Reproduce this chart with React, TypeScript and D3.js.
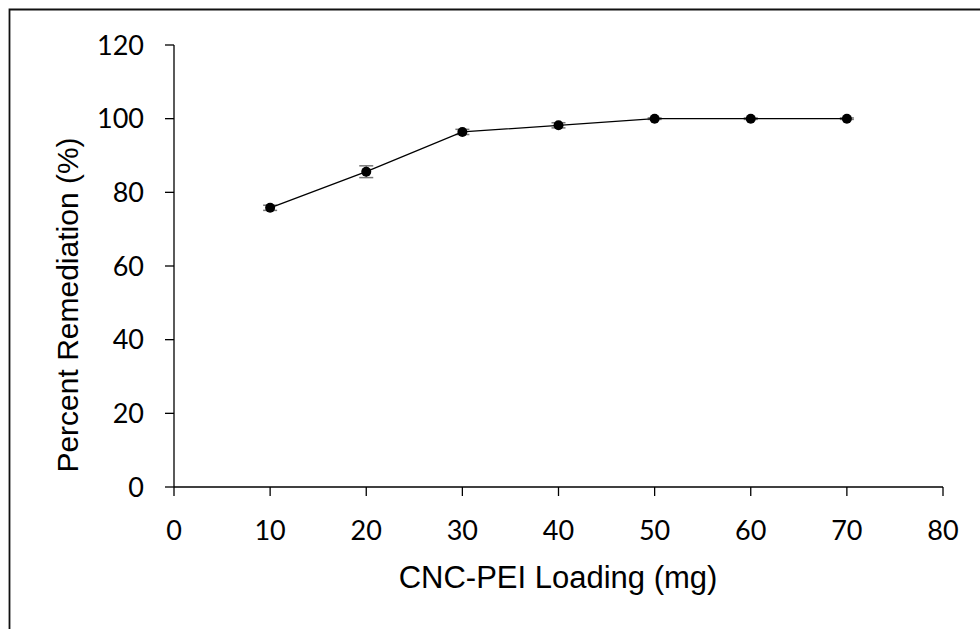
import React from "react";
import * as d3 from "d3";

const loadings = [10, 20, 30, 40, 50, 60, 70];
const remediation = [75.8, 85.6, 96.4, 98.2, 100, 100, 100];
const errors = [0.7, 1.6, 0.7, 0.7, 0.2, 0.2, 0.2];
const xTicks = [0, 10, 20, 30, 40, 50, 60, 70, 80];
const yTicks = [0, 20, 40, 60, 80, 100, 120];

export default function App() {
  const W = 980, H = 629;
  const x = d3.scaleLinear().domain([0, 80]).range([174, 943]);
  const y = d3.scaleLinear().domain([0, 120]).range([487, 45]);
  const line = d3.line<number>().x((_, i) => x(loadings[i])).y((d) => y(d));
  const tickFont = "Lato, 'Open Sans', sans-serif";
  const titleFont = "'Liberation Sans', Arial, sans-serif";
  return (
    <svg width={W} height={H} style={{ position: "absolute", left: 0, top: 0, background: "#fff" }}>
      <rect x={0} y={0} width={W} height={H} fill="#fff" />
      <path d={`M9.5,${H} L9.5,9.5 L${W},9.5`} fill="none" stroke="#111" strokeWidth={1.8} />
      {/* y axis */}
      <line x1={x(0)} x2={x(0)} y1={y(120)} y2={y(0)} stroke="#000" strokeWidth={1.3} />
      {yTicks.map((t) => (
        <g key={"y" + t}>
          <line x1={x(0) - 9} x2={x(0)} y1={y(t)} y2={y(t)} stroke="#000" strokeWidth={1.3} />
          <text x={144} y={y(t)} dy="0.36em" textAnchor="end" fontFamily={tickFont} fontSize={27} fill="#000">{t}</text>
        </g>
      ))}
      {/* x axis */}
      <line x1={x(0)} x2={x(80)} y1={y(0)} y2={y(0)} stroke="#000" strokeWidth={1.3} />
      {xTicks.map((t) => (
        <g key={"x" + t}>
          <line x1={x(t)} x2={x(t)} y1={y(0)} y2={y(0) + 9} stroke="#000" strokeWidth={1.3} />
          <text x={x(t)} y={540} textAnchor="middle" fontFamily={tickFont} fontSize={27} fill="#000">{t}</text>
        </g>
      ))}
      <text x={558} y={588} textAnchor="middle" fontFamily={titleFont} fontSize={31} fill="#000">CNC-PEI Loading (mg)</text>
      <text transform={`translate(78,${305}) rotate(-90)`} textAnchor="middle" fontFamily={titleFont} fontSize={30} fill="#000">Percent Remediation (%)</text>
      {/* error bars */}
      {remediation.map((v, i) => (
        <g key={"e" + i} stroke="#777" strokeWidth={1.5}>
          <line x1={x(loadings[i])} x2={x(loadings[i])} y1={y(v - errors[i])} y2={y(v + errors[i])} />
          <line x1={x(loadings[i]) - 7} x2={x(loadings[i]) + 7} y1={y(v - errors[i])} y2={y(v - errors[i])} />
          <line x1={x(loadings[i]) - 7} x2={x(loadings[i]) + 7} y1={y(v + errors[i])} y2={y(v + errors[i])} />
        </g>
      ))}
      <path d={line(remediation) || ""} fill="none" stroke="#000" strokeWidth={1.3} />
      {remediation.map((v, i) => (
        <circle key={"p" + i} cx={x(loadings[i])} cy={y(v)} r={5} fill="#000" />
      ))}
    </svg>
  );
}
